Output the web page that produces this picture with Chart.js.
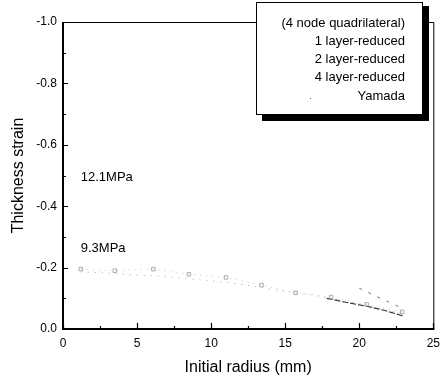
<!DOCTYPE html>
<html>
<head>
<meta charset="utf-8">
<script src="https://cdn.jsdelivr.net/npm/chart.js@4/dist/chart.umd.min.js"></script>
<style>
  html, body { margin: 0; padding: 0; background: #fff; }
  #wrap { width: 447px; height: 382px; }
</style>
</head>
<body>
<div id="wrap"><canvas id="strainChart"></canvas></div>
<script>
/* ==============================
   DATA
============================== */
var seriesNames = ["1 layer-reduced", "2 layer-reduced", "4 layer-reduced", "Yamada"];
var legendHeader = "(4 node quadrilateral)";

var oneLayerX = [1.2, 3.5, 6.1, 8.5, 11.0, 13.4, 15.7, 18.1, 20.5, 22.9];
var oneLayerY = [-0.195, -0.19, -0.195, -0.178, -0.168, -0.143, -0.118, -0.104, -0.08, -0.056];

var twoLayerX = [1.2, 3.2, 4.8, 6.5, 8.0, 9.6, 11.4, 13.0, 14.6, 16.4, 18.0, 19.6, 21.2, 23.0];
var twoLayerY = [-0.186, -0.182, -0.176, -0.172, -0.166, -0.158, -0.15, -0.138, -0.125, -0.114, -0.1, -0.086, -0.068, -0.05];

var fourLayerX = [17.8, 19.0, 20.5, 21.6, 23.0];
var fourLayerY = [-0.1, -0.088, -0.074, -0.062, -0.042];

var yamadaX = [20.0, 20.9, 21.8, 22.7];
var yamadaY = [-0.133, -0.112, -0.092, -0.072];

var xTicks = [0, 5, 10, 15, 20, 25];
var yTicks = [-1.0, -0.8, -0.6, -0.4, -0.2, 0.0];

var notes = [
    { text: "12.1MPa", x: 1.2, y: -0.495 },
    { text: "9.3MPa", x: 1.2, y: -0.262 }
];

function toPoints(xs, ys) {
    return xs.map(function (x, i) { return { x: x, y: ys[i] }; });
}

/* ==============================
   PLUGINS
============================== */
var frameTicks = {
    id: "frameTicks",
    afterDatasetsDraw: function (chart) {
        var ctx = chart.ctx;
        var a = chart.chartArea;
        var xs = chart.scales.x;
        var ys = chart.scales.y;
        ctx.save();
        ctx.strokeStyle = "#000";
        // top + right thin border
        ctx.lineWidth = 1;
        ctx.beginPath();
        ctx.moveTo(a.left, a.top + 0.5);
        ctx.lineTo(a.right + 0.5, a.top + 0.5);
        ctx.lineTo(a.right + 0.5, a.bottom);
        ctx.stroke();
        // left + bottom heavy axes
        ctx.lineWidth = 2;
        ctx.beginPath();
        ctx.moveTo(a.left, a.top);
        ctx.lineTo(a.left, a.bottom);
        ctx.lineTo(a.right + 1, a.bottom);
        ctx.stroke();
        // inward ticks
        ctx.lineWidth = 1.2;
        ctx.beginPath();
        for (var v = 0; v <= 25.001; v += 2.5) {
            var px = Math.round(xs.getPixelForValue(v)) + 0.5;
            var len = (Math.abs(v % 5) < 0.01) ? 6 : 3;
            ctx.moveTo(px, a.bottom);
            ctx.lineTo(px, a.bottom - len);
        }
        for (var k = 0; k <= 10; k++) {
            var val = -k / 10;
            var py = Math.round(ys.getPixelForValue(val)) + 0.5;
            var l2 = (k % 2 === 0) ? 5 : 3;
            ctx.moveTo(a.left, py);
            ctx.lineTo(a.left + l2, py);
        }
        ctx.stroke();
        // annotations
        ctx.fillStyle = "#000";
        ctx.font = "13px 'Liberation Sans', Arial, sans-serif";
        ctx.textBaseline = "middle";
        ctx.textAlign = "left";
        notes.forEach(function (n) {
            ctx.fillText(n.text, xs.getPixelForValue(n.x), ys.getPixelForValue(n.y));
        });
        ctx.restore();
    }
};

var boxLegend = {
    id: "boxLegend",
    afterDraw: function (chart) {
        var ctx = chart.ctx;
        var left = 256, top = 2, right = 423, bottom = 115;
        ctx.save();
        // shadow
        ctx.fillStyle = "#000";
        ctx.fillRect(left + 6, top + 4, right - left, bottom - top + 2);
        // box
        ctx.fillStyle = "#fff";
        ctx.fillRect(left, top, right - left, bottom - top);
        ctx.strokeStyle = "#000";
        ctx.lineWidth = 1;
        ctx.strokeRect(left + 0.5, top + 0.5, right - left - 1, bottom - top - 1);
        ctx.fillStyle = "#000";
        ctx.font = "13px 'Liberation Sans', Arial, sans-serif";
        ctx.textAlign = "right";
        ctx.textBaseline = "middle";
        var rows = [legendHeader].concat(seriesNames);
        rows.forEach(function (t, i) {
            ctx.fillText(t, 405, 23 + i * 18.3);
        });
        // faint Yamada sample
        ctx.fillStyle = "#555";
        ctx.fillRect(310, 98, 1, 1);
        ctx.restore();
    }
};

/* ==============================
   CHART
============================== */
var fontFamily = "'Liberation Sans', Arial, sans-serif";

new Chart(document.getElementById("strainChart"), {
    type: "scatter",
    data: {
        datasets: [{
                label: seriesNames[0],
                data: toPoints(oneLayerX, oneLayerY),
                showLine: true,
                borderColor: "#c8c8c8",
                borderWidth: 1,
                borderDash: [1, 5],
                pointStyle: "rect",
                pointRadius: 2.5,
                pointBorderColor: "#999",
                pointBorderWidth: 0.8,
                pointBackgroundColor: "rgba(255,255,255,0)"
            }, {
                label: seriesNames[1],
                data: toPoints(twoLayerX, twoLayerY),
                showLine: true,
                borderColor: "#aaa",
                borderWidth: 1,
                borderDash: [1, 6],
                pointRadius: 0
            }, {
                label: seriesNames[2],
                data: toPoints(fourLayerX, fourLayerY),
                showLine: true,
                borderColor: "#333",
                borderWidth: 1.2,
                borderDash: [6, 2],
                pointRadius: 0
            }, {
                label: seriesNames[3],
                data: toPoints(yamadaX, yamadaY),
                showLine: true,
                borderColor: "#777",
                borderWidth: 1,
                borderDash: [3, 7],
                pointRadius: 0
            }]
    },
    options: {
        responsive: true,
        maintainAspectRatio: false,
        animation: false,
        layout: { padding: { left: 0, top: 22, right: 13, bottom: 0 } },
        plugins: {
            legend: { display: false },
            tooltip: { enabled: false }
        },
        scales: {
            x: {
                type: "linear",
                min: 0,
                max: 25,
                afterBuildTicks: function (s) { s.ticks = xTicks.map(function (v) { return { value: v }; }); },
                afterFit: function (s) { s.height = 53; },
                grid: { display: false, drawTicks: false },
                border: { display: false },
                ticks: {
                    color: "#000",
                    padding: 7,
                    maxRotation: 0,
                    font: { family: fontFamily, size: 12 }
                },
                title: {
                    display: true,
                    text: "Initial radius (mm)",
                    color: "#000",
                    padding: { top: 0, bottom: 5 },
                    font: { family: fontFamily, size: 16 }
                }
            },
            y: {
                type: "linear",
                min: -1,
                max: 0,
                reverse: true,
                afterBuildTicks: function (s) { s.ticks = yTicks.map(function (v) { return { value: v }; }); },
                afterFit: function (s) { s.width = 63; },
                grid: { display: false, drawTicks: false },
                border: { display: false },
                ticks: {
                    color: "#000",
                    padding: 6,
                    font: { family: fontFamily, size: 12 },
                    callback: function (v) { return Number(v).toFixed(1); }
                },
                title: {
                    display: true,
                    text: "Thickness strain",
                    color: "#000",
                    padding: { top: 9, bottom: 0 },
                    font: { family: fontFamily, size: 16 }
                }
            }
        }
    },
    plugins: [frameTicks, boxLegend]
});
</script>
</body>
</html>
